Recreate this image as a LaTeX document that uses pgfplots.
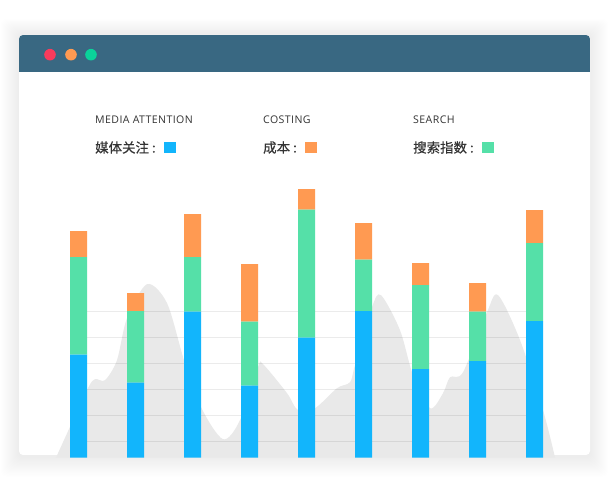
\documentclass[border=0pt]{standalone}
\usepackage{pgfplots}
\pgfplotsset{compat=1.18}
\usepackage{fontspec}
\setmainfont{Noto Sans CJK SC}
\newfontfamily\latinf[LetterSpace=4]{Open Sans}
\newfontfamily\cjkb[FakeBold=0.4]{Noto Sans CJK SC}
\definecolor{hdr}{HTML}{396882}
\definecolor{dred}{HTML}{F83B5C}
\definecolor{dora}{HTML}{FF9A52}
\definecolor{dgrn}{HTML}{0AD39A}
\definecolor{cblue}{HTML}{12B5FC}
\definecolor{cgreen}{HTML}{55E0A8}
\definecolor{corange}{HTML}{FF9A52}
\definecolor{areagray}{HTML}{E9E9E9}
\definecolor{txt}{HTML}{333333}
\pgfplotsset{
  base/.style={
    scale only axis, width=615bp, height=422.5bp,
    xmin=-1.37719, xmax=9.41228, ymin=0, ymax=422.5,
    hide axis, clip=true,
  }
}
\begin{document}
\begin{tikzpicture}[x=1bp,y=1bp]
\useasboundingbox (0,0) rectangle (615,478);
\fill[white] (0,0) rectangle (615,478);
% shadow
\foreach \i in {1,...,18}{
  \fill[black, opacity=0.0042, rounded corners=6bp] (19-\i, 21-1.1*\i) rectangle (590+\i, 443+0.9*\i);
}
% window
\fill[white, rounded corners=4bp] (19,23) rectangle (590,443);
\begin{scope}
\clip[rounded corners=4bp] (19,300) rectangle (590,443);
\fill[hdr] (19,406.3) rectangle (590,443);
\end{scope}
\fill[dred] (50,423.3) circle (5.8bp);
\fill[dora] (71,423.3) circle (5.8bp);
\fill[dgrn] (91,423.3) circle (5.8bp);
% legend
\begin{scope}[txt]
\node[anchor=west, inner sep=0, font=\latinf\fontsize{10.6}{12}\selectfont] at (95,358) {MEDIA ATTENTION};
\node[anchor=west, inner sep=0, font=\latinf\fontsize{10.6}{12}\selectfont] at (263,358) {COSTING};
\node[anchor=west, inner sep=0, font=\latinf\fontsize{10.6}{12}\selectfont] at (413,358) {SEARCH};
\node[anchor=west, inner sep=0, font=\cjkb\fontsize{13.5}{15}\selectfont] at (95,330.5) {媒体关注 :};
\node[anchor=west, inner sep=0, font=\cjkb\fontsize{13.5}{15}\selectfont] at (263,330.5) {成本 :};
\node[anchor=west, inner sep=0, font=\cjkb\fontsize{13.5}{15}\selectfont] at (413,330.5) {搜索指数 :};
\end{scope}
\fill[cblue] (164,325) rectangle (176,336);
\fill[corange] (305,325) rectangle (317,336);
\fill[cgreen] (482,325) rectangle (494,336);
% background area + grid
\begin{axis}[base, at={(0,20.3)}, anchor=south west]
\addplot[fill=areagray, draw=none, smooth, tension=0.5] coordinates {
(-0.395,0) (0.149,67.5) (0.289,78.5) (0.465,77.5) (0.675,97.5) (0.851,139.5)
(1.202,173.5) (1.553,154.5) (1.851,97.5) (2.149,50.5) (2.535,18.5) (2.833,37.5)
(3.149,90.5) (3.237,93.5) (3.658,64.5) (3.851,47.5) (4.149,49.5) (4.535,69.5)
(4.763,75.5) (4.851,92.5) (5.149,150.5) (5.307,162.5) (5.640,127.5) (5.868,82.5)
(6.167,49.5) (6.395,64.5) (6.518,80.5) (6.746,85.5) (7.167,145.5) (7.360,162.5)
(7.746,117.5) (8.149,47.5) (8.360,0)
} \closedcycle;
\foreach \h in {16,42,68,94,120,146}{
  \edef\tmp{\noexpand\addplot[black, opacity=0.08, line width=1.2bp, forget plot] coordinates {(0,\h) (8,\h)};}
  \tmp
}
\end{axis}
% bars
\begin{axis}[base, at={(0,20.3)}, anchor=south west, ybar stacked, bar width=17bp]
\addplot[fill=cblue, draw=none] coordinates {(0,103) (1,75) (2,146) (3,72) (4,120) (5,146.5) (6,88.5) (7,96.5) (8,136.5)};
\addplot[fill=cgreen, draw=none] coordinates {(0,97.5) (1,71.5) (2,54.5) (3,64) (4,128) (5,51.5) (6,84) (7,49.5) (8,78)};
\addplot[fill=corange, draw=none] coordinates {(0,26) (1,18) (2,43) (3,57.5) (4,20.5) (5,36.5) (6,22) (7,28.5) (8,33)};
\end{axis}
\end{tikzpicture}
\end{document}
